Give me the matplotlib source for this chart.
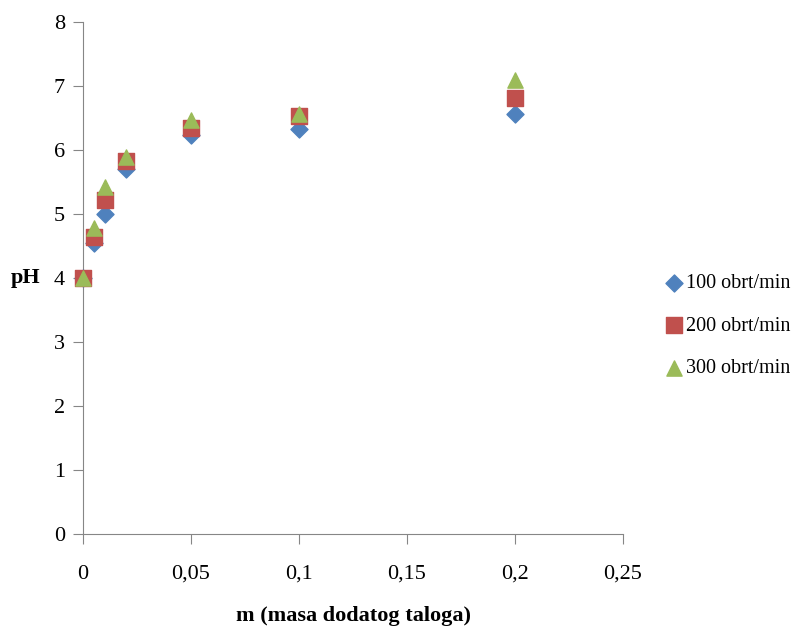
import matplotlib
matplotlib.use("Agg")
import matplotlib.pyplot as plt

plt.rcParams['font.family'] = ['Liberation Serif', 'DejaVu Serif']

masa = [0, 0.005, 0.01, 0.02, 0.05, 0.1, 0.2]
ph_100 = [4.0, 4.55, 5.0, 5.7, 6.24, 6.33, 6.57]
ph_200 = [4.0, 4.64, 5.22, 5.83, 6.35, 6.54, 6.82]
ph_300 = [4.0, 4.79, 5.43, 5.89, 6.47, 6.56, 7.1]

xticks = [0, 0.05, 0.1, 0.15, 0.2, 0.25]
xlabels = ['0', '0,05', '0,1', '0,15', '0,2', '0,25']

fig = plt.figure(figsize=(8.01, 6.32), dpi=100)
ax = fig.add_axes([0.1036, 0.155, 0.6742, 0.81])

ax.scatter(masa, ph_100, marker='D', s=75, color='#4F81BD', label='100 obrt/min', zorder=3, clip_on=False)
ax.scatter(masa, ph_200, marker='s', s=120, color='#C0504D', label='200 obrt/min', zorder=4, clip_on=False)
ax.scatter(masa, ph_300, marker='^', s=120, color='#9BBB59', label='300 obrt/min', zorder=5, clip_on=False)

ax.set_xlim(0, 0.25)
ax.set_ylim(0, 8)
ax.set_xticks(xticks)
ax.set_xticklabels(xlabels)
ax.set_yticks(range(0, 9))

for s in ['top', 'right']:
    ax.spines[s].set_visible(False)
for s in ['left', 'bottom']:
    ax.spines[s].set_color('#868686')
ax.tick_params(axis='both', colors='#868686', labelcolor='black', labelsize=16, length=7, direction='out')
ax.tick_params(axis='x', pad=15)
ax.tick_params(axis='y', pad=6)

ax.set_xlabel('m (masa dodatog taloga)', fontsize=16, fontweight='bold', labelpad=16)
ax.set_ylabel('pH', fontsize=16, fontweight='bold', rotation=0, labelpad=20, va='center')

ax.legend(loc='center left', bbox_to_anchor=(1.06, 0.406), frameon=False, fontsize=14.5,
          handletextpad=0.1, labelspacing=1.15, handlelength=1.0, borderaxespad=0)

fig.savefig('out.png', dpi=100)
